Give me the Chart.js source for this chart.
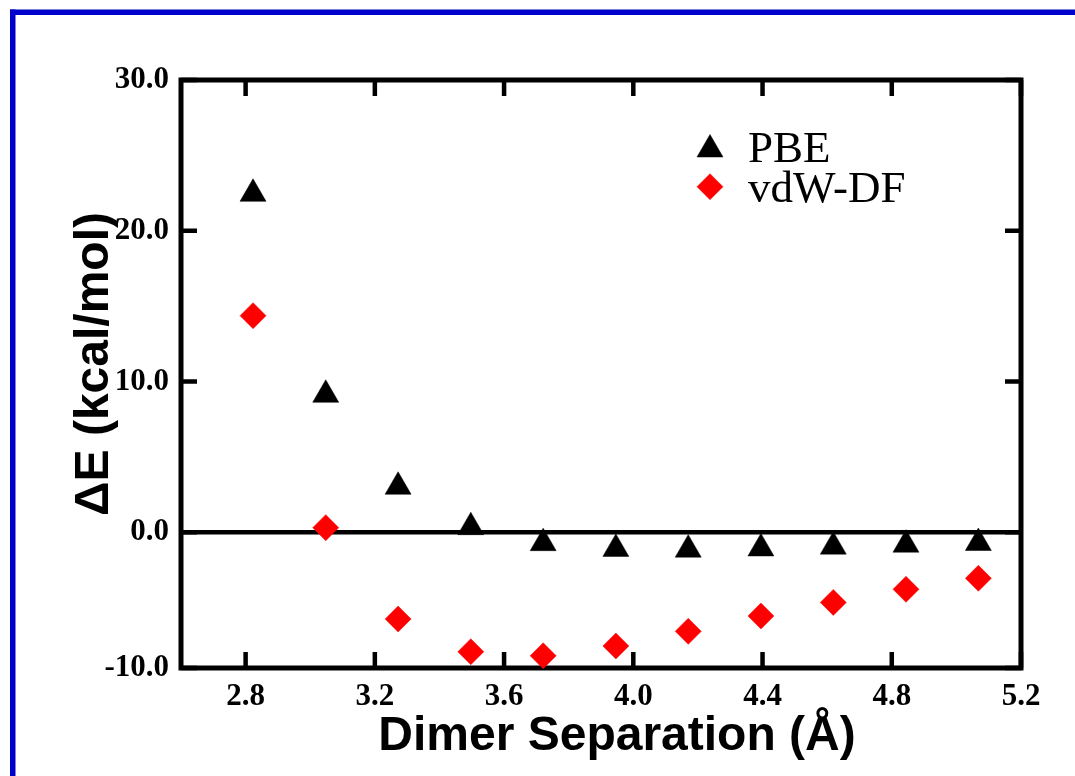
<!DOCTYPE html>
<html>
<head>
<meta charset="utf-8">
<script src="https://cdn.jsdelivr.net/npm/chart.js@4/dist/chart.umd.min.js"></script>
<style>
  html, body { margin: 0; padding: 0; background: #fff; }
  canvas { display: block; }
</style>
</head>
<body>
<canvas id="chart" width="1075" height="776"></canvas>
<script>
// dimer separation (Å)
const separation = [2.823, 3.048, 3.272, 3.497, 3.721, 3.946, 4.170, 4.395, 4.619, 4.844, 5.068]
// ΔE (kcal/mol)
const pbe = [22.45, 9.12, 3.02, 0.34, -0.72, -1.10, -1.15, -1.07, -0.95, -0.82, -0.71]
const vdwDF = [14.37, 0.31, -5.75, -7.92, -8.19, -7.54, -6.57, -5.55, -4.65, -3.78, -3.05]

const xTicks = [2.8, 3.2, 3.6, 4.0, 4.4, 4.8, 5.2]
const xTickLabels = ['2.8', '3.2', '3.6', '4.0', '4.4', '4.8', '5.2']
const yTicks = [-9, 0, 10, 20, 30]
const yTickLabels = ['-10.0', '0.0', '10.0', '20.0', '30.0']

const xTitle = 'Dimer Separation (Å)'
const yTitle = 'ΔE (kcal/mol)'

const tickFont = {family: 'Liberation Serif', size: 31, weight: 'bold'}

const toPoints = (ys) => ys.map((y, i) => ({x: separation[i], y}))

const framePlugin = {
  id: 'frame',
  beforeDraw(chart) {
    const ctx = chart.ctx
    ctx.save()
    ctx.fillStyle = '#0000cc'
    ctx.fillRect(10, 9.5, 1065, 5.5)
    ctx.fillRect(10, 9.5, 5.5, 767)
    ctx.restore()
  },
  beforeDatasetsDraw(chart) {
    const {ctx, chartArea: a, scales: {x, y}} = chart
    ctx.save()
    ctx.strokeStyle = '#000'
    ctx.lineCap = 'butt'

    // zero line
    ctx.lineWidth = 4.5
    const y0 = y.getPixelForValue(0)
    ctx.beginPath()
    ctx.moveTo(a.left, y0)
    ctx.lineTo(a.right, y0)
    ctx.stroke()

    // inward ticks
    const tl = 16
    ctx.lineWidth = 4.5
    ctx.beginPath()
    xTicks.forEach(v => {
      const px = x.getPixelForValue(v)
      ctx.moveTo(px, a.bottom); ctx.lineTo(px, a.bottom - tl)
      ctx.moveTo(px, a.top); ctx.lineTo(px, a.top + tl)
    })
    yTicks.forEach(v => {
      const py = y.getPixelForValue(v)
      ctx.moveTo(a.left, py); ctx.lineTo(a.left + tl, py)
      ctx.moveTo(a.right, py); ctx.lineTo(a.right - tl, py)
    })
    ctx.stroke()

    // box
    ctx.lineWidth = 5
    ctx.lineJoin = 'miter'
    ctx.strokeRect(a.left, a.top, a.right - a.left, a.bottom - a.top)
    ctx.restore()
  },
  afterDraw(chart) {
    const ctx = chart.ctx
    ctx.save()
    ctx.fillStyle = '#000'

    // axis titles
    ctx.font = 'bold 48px "Liberation Sans", Arial, sans-serif'
    ctx.textAlign = 'center'
    ctx.textBaseline = 'alphabetic'
    ctx.fillText(xTitle, 617, 750)
    ctx.translate(108, 364)
    ctx.rotate(-Math.PI / 2)
    ctx.fillText(yTitle, 0, 0)
    ctx.setTransform(1, 0, 0, 1, 0, 0)

    // legend
    ctx.font = '45px "Liberation Serif", "Times New Roman", serif'
    ctx.textAlign = 'left'
    chart.data.datasets.forEach((ds, i) => {
      const my = [149.5, 186.7][i]
      const by = [161.7, 201.7][i]
      ctx.fillStyle = ds.backgroundColor
      ctx.strokeStyle = ds.borderColor
      ctx.lineWidth = 0.5
      Chart.helpers.drawPoint(ctx, {
        pointStyle: ds.pointStyle,
        radius: ds.pointStyle === 'triangle' ? 15 : 13,
        rotation: 0,
        borderWidth: 0.5,
      }, 710, my)
      ctx.fillStyle = '#000'
      ctx.fillText(ds.label, 748, by)
    })
    ctx.restore()
  },
}

new Chart(document.getElementById('chart'), {
  type: 'scatter',
  data: {
    datasets: [
      {
        label: 'PBE',
        data: toPoints(pbe),
        pointStyle: 'triangle',
        pointRadius: 15,
        pointHoverRadius: 15,
        backgroundColor: '#000',
        borderColor: '#000',
        borderWidth: 0.5,
      },
      {
        label: 'vdW-DF',
        data: toPoints(vdwDF),
        pointStyle: 'rectRot',
        pointRadius: 13,
        pointHoverRadius: 13,
        backgroundColor: '#ff0000',
        borderColor: '#ff0000',
        borderWidth: 0.5,
      },
    ]
  },
  options: {
    responsive: false,
    animation: false,
    clip: false,
    layout: {
      padding: {left: 0, right: 54, top: 80, bottom: 0},
    },
    plugins: {
      legend: {display: false},
      tooltip: {enabled: false},
    },
    scales: {
      x: {
        type: 'linear',
        min: 2.6,
        max: 5.2,
        grid: {display: false, drawTicks: false},
        border: {display: false},
        afterBuildTicks: (s) => { s.ticks = xTicks.map(v => ({value: v})) },
        afterFit: (s) => { s.height = 108 },
        ticks: {
          color: '#000',
          font: tickFont,
          padding: 10,
          maxRotation: 0,
          autoSkip: false,
          callback: (v) => xTickLabels[xTicks.indexOf(v)],
        },
      },
      y: {
        type: 'linear',
        min: -9,
        max: 30,
        grid: {display: false, drawTicks: false},
        border: {display: false},
        afterBuildTicks: (s) => { s.ticks = yTicks.map(v => ({value: v})) },
        afterFit: (s) => { s.width = 181 },
        ticks: {
          color: '#000',
          font: tickFont,
          padding: 12,
          autoSkip: false,
          callback: (v) => yTickLabels[yTicks.indexOf(v)],
        },
      },
    },
  },
  plugins: [framePlugin],
})
</script>
</body>
</html>
